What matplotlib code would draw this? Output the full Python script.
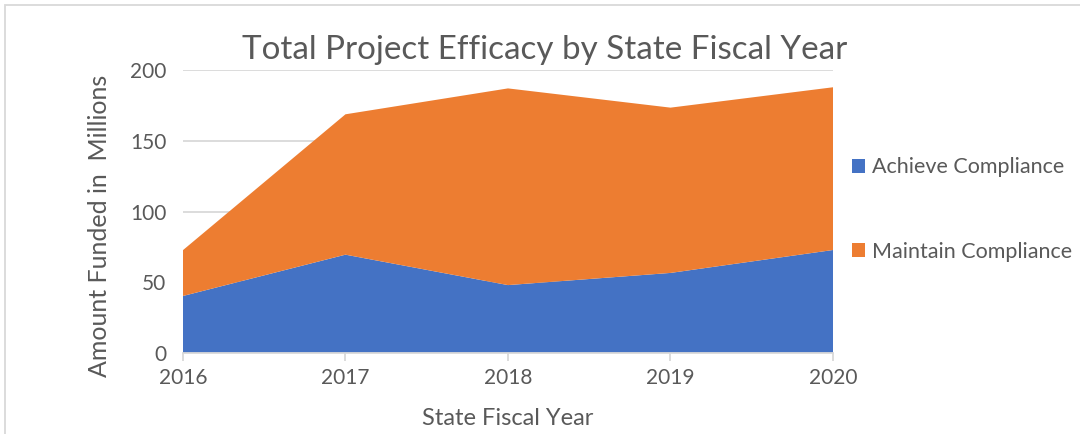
import numpy as np
import matplotlib.pyplot as plt
from matplotlib.patches import Rectangle

# data (millions)
years = [2016, 2017, 2018, 2019, 2020]
achieve = [40.3, 69.5, 48.0, 56.6, 72.8]
maintain = [32.4, 99.2, 139.0, 116.8, 115.0]
labels = ["Achieve Compliance", "Maintain Compliance"]
colors = ["#4472C4", "#ED7D31"]

plt.rcParams['font.family'] = ['Lato', 'DejaVu Sans']
txt = "#595959"

fig = plt.figure(figsize=(10.8, 4.34), dpi=100)
ax = fig.add_axes([0.1694, 0.1866, 0.6019, 0.6521])

ax.stackplot(years, achieve, maintain, labels=labels, colors=colors, zorder=2)
ax.set_xlim(2016, 2020)
ax.set_ylim(0, 200)
ax.set_xticks(years)
ax.set_yticks([0, 50, 100, 150, 200])
ax.yaxis.grid(True, color="#D9D9D9", lw=1.3, zorder=0)
ax.set_axisbelow(True)
for s in ["top", "right", "left"]:
    ax.spines[s].set_visible(False)
ax.spines["bottom"].set_color("#D9D9D9")
ax.spines["bottom"].set_linewidth(1.3)
ax.tick_params(axis="x", colors="#D9D9D9", length=6, width=1.3, labelcolor=txt, labelsize=15, pad=5)
ax.tick_params(axis="y", length=0, labelcolor=txt, labelsize=15, pad=12)

# title sits a bit right of the axes centre in the original
fig.text(545 / 1080, 1 - 50 / 434, "Total Project Efficacy by State Fiscal Year",
         fontsize=23.9, color=txt, ha="center", va="center")
ax.set_xlabel("State Fiscal Year", fontsize=17, color=txt, labelpad=14)
ax.set_ylabel("Amount Funded in  Millions", fontsize=18, color=txt, va="center")
ax.yaxis.set_label_coords(-0.128, 0.449)

ax.legend(loc="upper left", bbox_to_anchor=(1.0, 0.76), frameon=False, fontsize=15.5,
          handlelength=0.6, handleheight=0.6, handletextpad=0.3, labelspacing=3.0,
          labelcolor=txt)

# light frame around the chart
fig.patches.append(Rectangle((5 / 1080, -0.01), 1.1, 1 - 5 / 434 + 0.01, transform=fig.transFigure,
                             fill=False, edgecolor="#D9D9D9", lw=1.3))

fig.savefig("out.png", dpi=100)
